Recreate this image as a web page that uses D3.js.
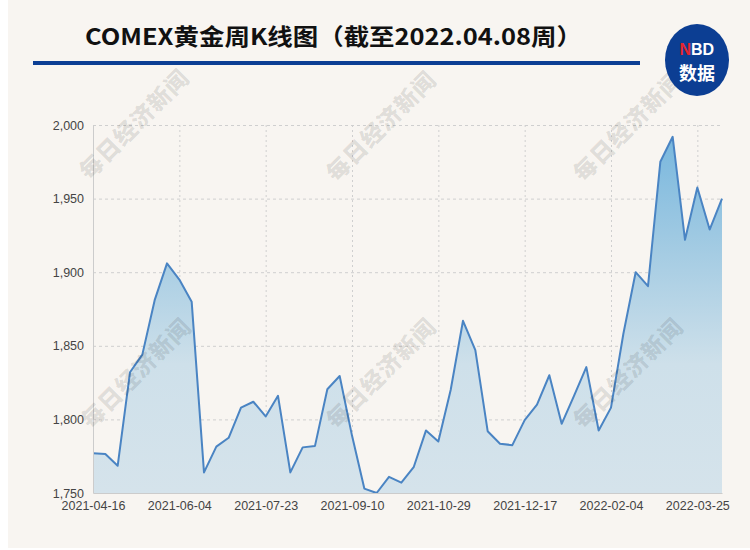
<!DOCTYPE html>
<html><head><meta charset="utf-8">
<script src="https://cdn.jsdelivr.net/npm/d3@7/dist/d3.min.js"></script>
<style>
html,body{margin:0;padding:0;background:#fff;}
svg{display:block;}
</style></head>
<body><svg id="c" width="750" height="550"></svg>
<script>
const titleText = "COMEX黄金周K线图（截至2022.04.08周）";
const dates = ["2021-04-16","2021-04-23","2021-04-30","2021-05-07","2021-05-14","2021-05-21","2021-05-28",
"2021-06-04","2021-06-11","2021-06-18","2021-06-25","2021-07-02","2021-07-09","2021-07-16",
"2021-07-23","2021-07-30","2021-08-06","2021-08-13","2021-08-20","2021-08-27","2021-09-03",
"2021-09-10","2021-09-17","2021-09-24","2021-10-01","2021-10-08","2021-10-15","2021-10-22",
"2021-10-29","2021-11-05","2021-11-12","2021-11-19","2021-11-26","2021-12-03","2021-12-10",
"2021-12-17","2021-12-24","2021-12-31","2022-01-07","2022-01-14","2022-01-21","2022-01-28",
"2022-02-04","2022-02-11","2022-02-18","2022-02-25","2022-03-04","2022-03-11","2022-03-18",
"2022-03-25","2022-04-01","2022-04-08"];
const prices = [1777,1776.5,1768.5,1832,1844,1881,1906,1895,1880,1764,1781.5,1787.5,1808,1812,1802,1816,1764,1781,1782,1820.5,1829.5,1789,1753,1750,1761,1757,1767.5,1792.5,1785,1820,1867,1847,1792,1783.5,1782.5,1799.5,1810,1830,1797,1816,1835.5,1792.5,1808,1858,1900,1890.5,1975,1992,1922,1957.5,1929,1950];
const xTickLabels = ["2021-04-16","2021-06-04","2021-07-23","2021-09-10","2021-10-29","2021-12-17","2022-02-04","2022-03-25"];
const yTicks = [1750,1800,1850,1900,1950,2000];
const watermark = "每日经济新闻";

const svg = d3.select("#c");
svg.append("rect").attr("x",8).attr("y",0).attr("width",742).attr("height",548).attr("fill","#f8f5f1");

const x = d3.scalePoint().domain(dates).range([93,722]);
const y = d3.scaleLinear().domain([1750,2000]).range([493,125]);

const defs = svg.append("defs");
const grad = defs.append("linearGradient").attr("id","g").attr("gradientUnits","userSpaceOnUse")
  .attr("x1",0).attr("x2",0).attr("y1",y(2000)).attr("y2",y(1750));
grad.append("stop").attr("offset","0%").attr("stop-color","#74b5dd");
grad.append("stop").attr("offset","35%").attr("stop-color","#a5cce3");
grad.append("stop").attr("offset","65%").attr("stop-color","#cee0ea");
grad.append("stop").attr("offset","100%").attr("stop-color","#d5e3eb");

const gy = svg.append("g").attr("transform","translate(93,0)")
  .call(d3.axisLeft(y).tickValues(yTicks.filter(v=>v>1750)).tickSize(-629).tickFormat(""));
gy.select(".domain").remove();
gy.selectAll("line").attr("stroke","#cfcfcf").attr("stroke-dasharray","3,3");

const gx = svg.append("g").attr("transform","translate(0,125)")
  .call(d3.axisBottom(x).tickValues(xTickLabels.slice(1)).tickSize(368).tickFormat(""));
gx.select(".domain").remove();
gx.selectAll("line").attr("stroke","#cfcfcf").attr("stroke-dasharray","2,3");

const area = d3.area().x((d,i)=>x(dates[i])).y0(y(1750)).y1(d=>y(d));
svg.append("path").datum(prices).attr("d",area).attr("fill","url(#g)");
const line = d3.line().x((d,i)=>x(dates[i])).y(d=>y(d));
svg.append("path").datum(prices).attr("d",line).attr("fill","none")
  .attr("stroke","#4a84c3").attr("stroke-width",2).attr("stroke-linejoin","round");

const ay = svg.append("g").attr("transform","translate(93,0)")
  .call(d3.axisLeft(y).tickValues(yTicks).tickSize(0).tickPadding(9).tickFormat(d3.format(",")));
ay.select(".domain").attr("stroke","#cccccc");
ay.selectAll("text").attr("fill","#444").style("font","12.5px 'Liberation Sans', Arial, sans-serif");

const ax = svg.append("g").attr("transform","translate(0,493)")
  .call(d3.axisBottom(x).tickValues(xTickLabels).tickSize(0).tickPadding(8));
ax.select(".domain").attr("stroke","#cccccc");
ax.selectAll("text").attr("fill","#444").style("font","12.5px 'Liberation Sans', Arial, sans-serif");

const wm = [[133,123],[380,125],[627,125],[135,372],[380,372],[627,372]];
svg.append("g").selectAll("text").data(wm).join("text")
  .attr("transform",d=>`translate(${d[0]},${d[1]}) rotate(-45)`)
  .attr("text-anchor","middle").attr("dominant-baseline","central")
  .attr("fill","#000").attr("fill-opacity",0.11)
  .style("font","900 23px 'Noto Sans CJK SC', sans-serif").style("letter-spacing","1px")
  .text(watermark);

svg.append("text").attr("x",85).attr("y",45).attr("textLength",497).attr("lengthAdjust","spacingAndGlyphs")
  .attr("fill","#111").style("font","bold 23px 'Noto Sans CJK SC', sans-serif").text(titleText);
svg.append("rect").attr("x",33).attr("y",61).attr("width",607).attr("height",4).attr("fill","#0c3f94");

svg.append("ellipse").attr("cx",697).attr("cy",60).attr("rx",32).attr("ry",36).attr("fill","#0c3e93");
svg.append("text").attr("x",691).attr("y",55).attr("text-anchor","end").attr("fill","#e4252d")
  .style("font","bold 16px 'Liberation Sans', Arial, sans-serif").text("N");
svg.append("text").attr("x",691).attr("y",55).attr("text-anchor","start").attr("fill","#fff")
  .style("font","bold 16px 'Liberation Sans', Arial, sans-serif").text("BD");
svg.append("text").attr("x",697).attr("y",80).attr("text-anchor","middle").attr("fill","#fff")
  .style("font","bold 18px 'Noto Sans CJK SC', sans-serif").text("数据");
</script>
</body></html>
